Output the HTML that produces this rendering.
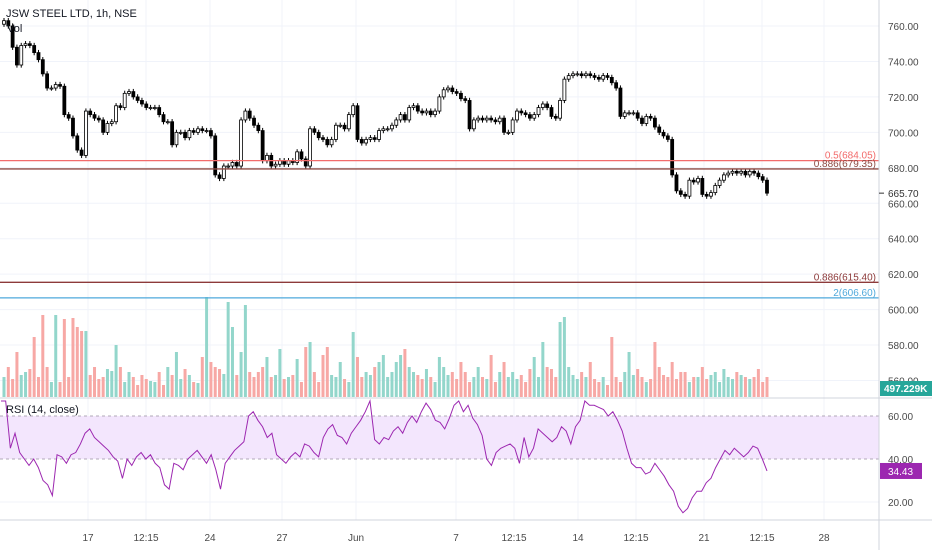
<!DOCTYPE html>
<html><head><meta charset="utf-8"><style>
html,body{margin:0;padding:0;background:#fff;width:932px;height:550px;overflow:hidden}
svg{display:block;font-family:"Liberation Sans",sans-serif}
</style></head><body>
<svg id="chart" width="932" height="550" viewBox="0 0 932 550" xmlns="http://www.w3.org/2000/svg">
<g id="grid"></g>
<rect x="0" y="416" width="879" height="43" fill="#f3e6fd"/>
<g id="vol"></g>
<g id="candles"></g>
<g id="levels"></g>
<g id="rsi"></g>
<g id="axes"></g>
<text x="6" y="17" font-size="11" fill="#131722">JSW STEEL LTD, 1h, NSE</text>
<text x="7" y="32" font-size="11" fill="#131722">Vol</text>
<text x="6" y="413" font-size="11" fill="#131722">RSI (14, close)</text>
</svg>
<script>
const closes=[763,760,748,738,749,750,749,745,741,733,
725,725,727,726,710,708,698,690,687,712,
710,708,707,700,705,706,715,714,722,723,
720,718,716,714,714,714,710,706,706,693,
700,700,697,701,700,702,701,701,698,676,
674,681,681,683,681,707,712,708,704,701,
684,687,681,682,684,682,684,683,689,685,
681,702,700,697,696,693,696,704,704,702,
710,715,696,694,696,697,696,701,702,702,
704,707,710,707,714,715,712,711,712,710,
712,720,724,725,723,722,719,718,702,707,
708,707,708,707,706,708,700,700,707,712,
711,710,708,710,714,716,714,709,708,718,
730,732,733,733,732,733,732,731,730,732,
731,728,725,709,711,711,711,708,705,709,
708,703,700,698,696,676,667,665,664,673,
672,674,665,664,666,670,673,676,677,678,
677,678,676,678,677,675,673,665.7];
const volumes=[20,30,18,45,22,25,28,60,20,82,
30,15,82,15,78,20,79,70,66,66,
22,30,18,20,28,26,52,30,15,25,
20,12,22,18,16,15,25,12,30,22,
45,18,28,22,15,14,40,100,35,30,
28,23,95,70,22,45,92,25,20,25,
30,40,20,22,48,18,20,22,38,15,
50,55,25,15,42,50,22,20,35,18,
15,65,40,20,25,22,30,35,42,20,
25,35,42,48,30,25,22,18,28,20,
15,40,30,22,25,18,35,25,15,20,
30,20,18,42,15,25,35,20,25,18,
22,15,28,40,20,55,30,28,20,75,
80,30,22,18,25,20,35,18,15,20,
12,60,20,15,25,45,22,28,20,15,
18,55,30,22,20,35,18,25,25,15,
20,20,30,18,22,25,15,28,20,18,
25,22,20,18,20,28,15,20];
const rsiVals=[67,67,45,52,43,40,37,40,36,30,28,23,42,41,38,42,43,47,52,54,50,48,46,44,41,39,31,40,37,41,43,40,42,38,36,28,26,38,37,35,40,42,44,41,38,42,35,26,38,41,44,46,48,60,62,58,55,50,52,42,40,38,41,43,41,47,46,43,41,50,54,56,51,50,47,52,55,58,62,67,49,47,50,49,53,55,52,57,60,57,62,66,63,58,57,54,59,65,67,62,65,59,56,51,40,37,43,45,46,47,45,38,50,41,45,54,52,50,48,50,55,53,47,55,58,67,65,65,64,63,60,62,58,53,45,38,36,36,33,34,38,35,32,28,25,18,15,17,22,25,25,29,31,36,40,44,42,45,43,41,43,46,45,40,34.43];
const priceTicks=[760,740,720,700,680,660,640,620,600,580,560];
const rsiTicks=[60,40,20];
const timeLabels=["17","12:15","24","27","Jun","7","12:15","14","12:15","21","12:15","28"];
const timeX=[88,146,210,282,356,456,514,578,636,704,762,824];
const levelValues=[684.05,679.35,615.40,606.60];
const levelLabels=["0.5(684.05)","0.886(679.35)","0.886(615.40)","2(606.60)"];
const levelColors=["#f26b6b","#8d4a43","#8d3a3a","#4fa9dc"];

const NS="http://www.w3.org/2000/svg";
function mk(parent,tag,attrs){const e=document.createElementNS(NS,tag);for(const k in attrs)e.setAttribute(k,attrs[k]);parent.appendChild(e);return e;}
const py=p=>26+(760-p)*1.7725;
const ry=r=>416+(60-r)*2.15;
const n=closes.length;
const cx=i=>4+i*(763/(n-1));
const rx=i=>1+i*(766/(rsiVals.length-1));
const maxV=Math.max(...volumes);
const vy=v=>397-v/maxV*100;

const grid=document.getElementById('grid');
priceTicks.forEach(p=>{const l=mk(grid,'line',{x1:0,x2:879,y1:py(p),y2:py(p),stroke:'#f0f3fa'});

});
rsiTicks.forEach(r=>{if(r===20){const l=mk(grid,'line',{x1:0,x2:879,y1:ry(r),y2:ry(r),stroke:'#f0f3fa'});

}});
timeX.forEach(x=>{const l=mk(grid,'line',{x1:x,x2:x,y1:0,y2:520,stroke:'#f0f3fa'});

});

const vol=document.getElementById('vol');
volumes.forEach((v,i)=>{const up=i===0||closes[i]>=closes[i-1];
const r=mk(vol,'rect',{x:cx(i)-1.5,y:vy(v),width:3,height:397-vy(v),fill:up?'#93d6cb':'#f7a8a5'});

});

const cg=document.getElementById('candles');
closes.forEach((c,i)=>{const o=i===0?c-2:closes[i-1];const up=c>=o;
const hi=Math.max(o,c)+1.5,lo=Math.min(o,c)-1.5;const x=cx(i);
const g=mk(cg,'g',{});


mk(g,'line',{x1:x,x2:x,y1:py(hi),y2:py(lo),stroke:'#000','stroke-width':1});
const top=py(Math.max(o,c)),h=Math.max(1,py(Math.min(o,c))-top);
mk(g,'rect',{x:x-1.5,y:top,width:3,height:h,fill:up?'#fff':'#000',stroke:'#000','stroke-width':0.8});});

const lg=document.getElementById('levels');
levelValues.forEach((v,i)=>{const y=py(v);
const l=mk(lg,'line',{x1:0,x2:879,y1:y,y2:y,stroke:levelColors[i],'stroke-width':1.3});


const t=mk(lg,'text',{x:876,y:y-2,'text-anchor':'end','font-size':10,fill:levelColors[i]});
t.textContent=levelLabels[i];

});

const rg=document.getElementById('rsi');
[60,40].forEach(r=>{const l=mk(rg,'line',{x1:0,x2:879,y1:ry(r),y2:ry(r),stroke:'#b0a8b8','stroke-dasharray':'3,3'});

});
const pl=mk(rg,'polyline',{points:rsiVals.map((r,i)=>rx(i)+','+ry(r)).join(' '),fill:'none',stroke:'#9c27b0','stroke-width':1});



const ax=document.getElementById('axes');
[[879,0,879,550],[0,398,932,398],[0,520,932,520]].forEach(a=>{const l=mk(ax,'line',{x1:a[0],y1:a[1],x2:a[2],y2:a[3],stroke:'#d1d4dc'});

});
priceTicks.forEach(p=>{const t=mk(ax,'text',{x:888,y:py(p)+4,'font-size':10,fill:'#4a4a4a'});
t.textContent=p.toFixed(2);

});
rsiTicks.forEach(r=>{const t=mk(ax,'text',{x:888,y:ry(r)+4,'font-size':10,fill:'#4a4a4a'});
t.textContent=r.toFixed(2);

});
timeLabels.forEach((s,i)=>{const t=mk(ax,'text',{x:timeX[i],y:541,'text-anchor':'middle','font-size':10,fill:'#4a4a4a'});
t.textContent=s;

});
// last price label
const last=closes[n-1];
const lpBg=mk(ax,'rect',{x:880,y:py(last)-7,width:52,height:14,fill:'#fff'});


mk(ax,'line',{x1:879,x2:884,y1:py(last),y2:py(last),stroke:'#333'});
const lp=mk(ax,'text',{x:888,y:py(last)+4,'font-size':10,fill:'#333'});
lp.textContent=last.toFixed(2);


// volume label
const vb=mk(ax,'rect',{x:880,y:381,width:52,height:15,fill:'#26a69a'});


const vt=mk(ax,'text',{x:884,y:392,'font-size':10,fill:'#fff','font-weight':'bold'});
vt.textContent='497.229K';


// rsi label
const lr=rsiVals[rsiVals.length-1];
const rb=mk(ax,'rect',{x:880,y:ry(lr)-8,width:42,height:16,fill:'#9c27b0'});


const rt=mk(ax,'text',{x:888,y:ry(lr)+4,'font-size':10,fill:'#fff'});
rt.textContent=lr.toFixed(2);


</script>
</body></html>
